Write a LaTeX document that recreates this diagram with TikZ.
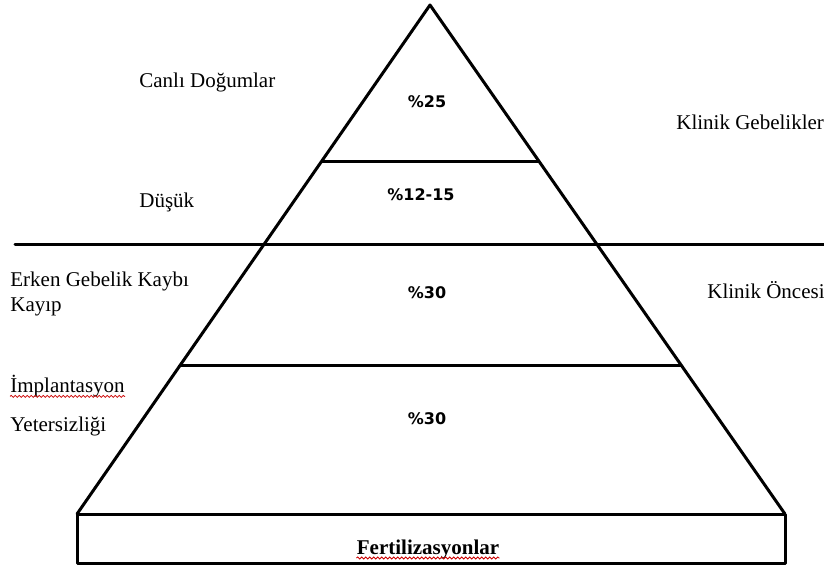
\documentclass[tikz,border=0pt]{standalone}
\usepackage{fontspec}
\setmainfont{Liberation Serif}
\newfontfamily\yuzdefont{DejaVu Sans}
\usepackage{tikz}
\usetikzlibrary{
	calc,
	decorations.pathmorphing
}

\begin{document}
\begin{tikzpicture}[
			x=0.5pt, y=-0.5pt,
			font=\fontsize{10.5}{12.6}\selectfont,
			kenar/.style={line width=1.5pt, line cap=round, line join=round},
			etiket/.style={anchor=west, inner sep=0pt, align=left},
			yuzde/.style={inner sep=0pt, font=\yuzdefont\bfseries\fontsize{8}{9.6}\selectfont},
			dalga/.style={red!80!black, line width=0.4pt, decorate, decoration={snake, amplitude=0.5pt, segment length=2pt}}
		]
		\useasboundingbox (0,0) rectangle (824,572);

		\coordinate (tepe) at (430,5);
		\coordinate (solalt) at (77,514);
		\coordinate (sagalt) at (785,514);

		% piramit ve katmanlar
		\draw[kenar] (solalt) -- (tepe) -- (sagalt);
		\draw[kenar] ($(tepe)!0.3065!(solalt)$) -- ($(tepe)!0.3065!(sagalt)$);
		\draw[kenar] ($(tepe)!0.709!(solalt)$) -- ($(tepe)!0.709!(sagalt)$);
		\draw[kenar] (15,245) -- (824,245);
		\draw[kenar] (solalt) rectangle (785,563);

		\node[yuzde] (y25) at (427,102) {\%25};
		\node[yuzde] (y1215) at (421,195) {\%12-15};
		\node[yuzde] (y30a) at (427,293) {\%30};
		\node[yuzde] (y30b) at (427,419) {\%30};

		\node[etiket] (canli) at (139,82) {Canlı Doğumlar};
		\node[etiket] (dusuk) at (139,202) {Düşük};
		\node[etiket] (erken) at (10,294) {Erken Gebelik Kaybı\\Kayıp};
		\node[etiket] (impl) at (10,386) {İmplantasyon};
		\node[etiket] (yeter) at (10,426) {Yetersizliği};
		\node[etiket] (klinik) at (676,122) {Klinik Gebelikler};
		\node[etiket] (oncesi) at (707,290) {Klinik Öncesi};
		\node[inner sep=0pt, font=\bfseries\fontsize{10.5}{12.6}\selectfont] (fert) at (428,549) {Fertilizasyonlar};

		\draw[dalga] ([yshift=-2pt]impl.base west) -- ([yshift=-2pt]impl.base east);
		\draw[dalga] ([yshift=-2pt]fert.base west) -- ([yshift=-2pt]fert.base east);
	\end{tikzpicture}
\end{document}
